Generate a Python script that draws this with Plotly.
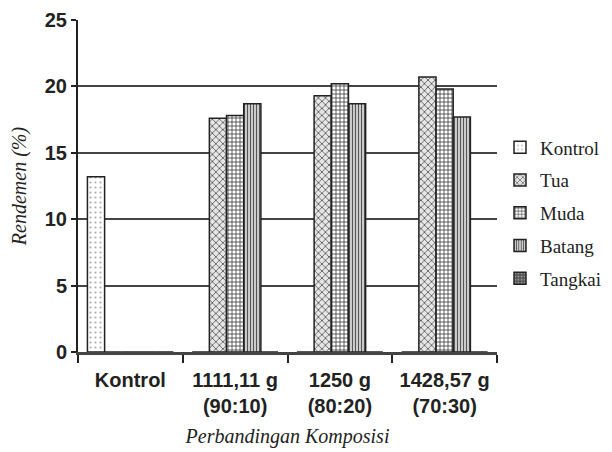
import plotly.graph_objects as go

categories = ["Kontrol", "1111,11 g<br>(90:10)", "1250 g<br>(80:20)", "1428,57 g<br>(70:30)"]
series_names = ["Kontrol", "Tua", "Muda", "Batang", "Tangkai"]
kontrol = [13.2, 0, 0, 0]
tua = [0, 17.6, 19.3, 20.7]
muda = [0, 17.8, 20.2, 19.8]
batang = [0, 18.7, 18.7, 17.7]
tangkai = [0, 0, 0, 0]
values = [kontrol, tua, muda, batang, tangkai]
y_ticks = [0, 5, 10, 15, 20, 25]

styles = [
    dict(shape=".", bgcolor="white", fgcolor="#aaaaaa", size=5, solidity=0.15),
    dict(shape="x", bgcolor="#e6e6e6", fgcolor="#555555", size=5, solidity=0.3),
    dict(shape="+", bgcolor="white", fgcolor="#333333", size=4, solidity=0.35),
    dict(shape="|", bgcolor="#d8d8d8", fgcolor="#555555", size=3, solidity=0.4),
    dict(shape=".", bgcolor="#555555", fgcolor="#999999", size=4, solidity=0.3),
]

SANS = "Liberation Sans, Arial, sans-serif"
SERIF = "Liberation Serif, Times New Roman, serif"

# page body has an 8px margin: the figure is sized/offset to compensate
W, H, OFF = 604, 444, 8
PLOT_L, PLOT_R, PLOT_T, PLOT_B = 78, 497, 20, 352  # target page pixels

fig = go.Figure()
for name, vals, st in zip(series_names, values, styles):
    fig.add_trace(go.Bar(
        name=name, x=categories, y=vals, legendgroup=name,
        marker=dict(color=st["bgcolor"], line=dict(color="#222222", width=1.5),
                    pattern=dict(shape=st["shape"], bgcolor=st["bgcolor"],
                                 fgcolor=st["fgcolor"], size=st["size"],
                                 solidity=st["solidity"], fillmode="replace")),
    ))

fig.update_layout(
    width=W, height=H,
    margin=dict(l=PLOT_L - OFF, r=W - (PLOT_R - OFF), t=PLOT_T - OFF, b=H - (PLOT_B - OFF),
                autoexpand=False),
    paper_bgcolor="white", plot_bgcolor="white",
    barmode="group", bargap=0.18, bargroupgap=0,
    showlegend=True,
    legend=dict(xref="container", yref="container", x=(500 - OFF) / W, y=1 - (213 - OFF) / H,
                xanchor="left", yanchor="middle",
                font=dict(family=SERIF, size=19, color="#222222"),
                tracegroupgap=5, itemwidth=30, bgcolor="rgba(0,0,0,0)"),
    font=dict(family=SANS, color="#222222"),
)
fig.update_yaxes(
    range=[0, 25], tickvals=y_ticks, ticks="outside", ticklen=5, tickwidth=2,
    tickcolor="#222222", showline=True, linecolor="#222222", linewidth=2,
    showgrid=True, gridcolor="#444444", gridwidth=2, zeroline=False, automargin=False,
    tickfont=dict(family=SANS, size=20, color="#222222", weight="bold"),
    title=dict(text="<i>Rendemen (%)</i>", font=dict(family=SERIF, size=20, color="#222222"), standoff=14),
)
fig.update_xaxes(
    tickson="boundaries", ticks="outside", ticklen=8, tickwidth=2, tickcolor="#222222",
    showline=True, linecolor="#444444", linewidth=3, automargin=False, ticklabelstandoff=8,
    tickfont=dict(family=SANS, size=20, color="#222222", weight="bold"),
    title=dict(text="<i>Perbandingan Komposisi</i>", font=dict(family=SERIF, size=20, color="#222222"), standoff=13),
)

fig.write_html("out.html")
